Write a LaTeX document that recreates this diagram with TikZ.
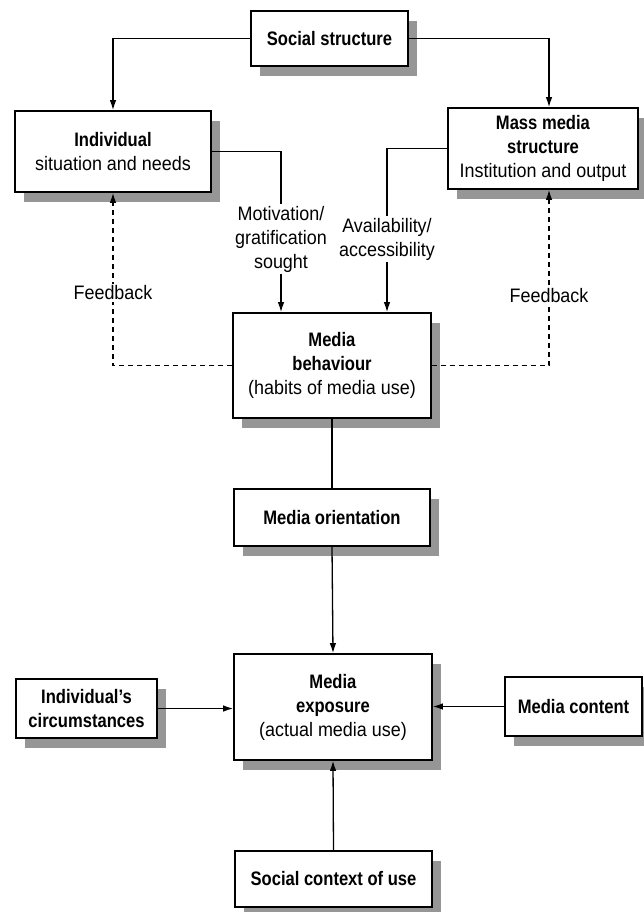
\documentclass[tikz,border=0pt]{standalone}
\usepackage{fontspec}
\setmainfont{Liberation Sans}[UprightFeatures={FakeStretch=0.92}, BoldFeatures={FakeStretch=0.85}]
\usepackage{xcolor}
\usepackage{tikz}
\usetikzlibrary{positioning, arrows.meta, shadows}
\definecolor{shadowgrey}{RGB}{150,150,150}
\tikzset{
    box/.style={draw, line width=1.6pt, fill=white, align=center,
        font=\fontsize{19.5}{24}\selectfont,
        drop shadow={shadow xshift=9pt, shadow yshift=-10pt, fill=shadowgrey, opacity=1}},
    lbl/.style={align=center, font=\fontsize{19.5}{24}\selectfont, inner sep=2pt},
    link/.style={line width=1.3pt, -{Latex[length=10pt,width=6.5pt]}},
    plain/.style={line width=1.3pt},
    fb/.style={line width=1.3pt, dash pattern=on 5pt off 4pt, -{Latex[length=10pt,width=6.5pt]}},
    fblabel/.style={fill=white, font=\fontsize{19.5}{24}\selectfont, inner sep=2pt}
}

\begin{document}
\begin{tikzpicture}[x=1pt, y=-1pt]
    \useasboundingbox (0,0) rectangle (643,912);

    \node[box, minimum width=157pt, minimum height=55pt] (social) at (329.5,38.5) {\textbf{Social structure}};
    \node[box, minimum width=196pt, minimum height=81pt] (indiv) at (113,151.5) {\textbf{Individual}\\situation and needs};
    \node[box, minimum width=190pt, minimum height=81pt] (mass) at (543,148.5) {\textbf{Mass media}\\\textbf{structure}\\Institution and output};
    \node[lbl] (motiv) at (281,239) {Motivation/\\gratification\\sought};
    \node[lbl] (avail) at (387,239) {Availability/\\accessibility};
    \node[box, minimum width=198pt, minimum height=105pt] (behav) at (332,365.5) {\textbf{Media}\\\textbf{behaviour}\\(habits of media use)};
    \node[box, minimum width=196pt, minimum height=57pt] (orient) at (332,517.5) {\textbf{Media orientation}};
    \node[box, minimum width=198pt, minimum height=106pt] (expo) at (333,707) {\textbf{Media}\\\textbf{exposure}\\(actual media use)};
    \node[box, minimum width=141pt, minimum height=59pt] (circ) at (86.5,708.5) {\textbf{Individual's}\\\textbf{circumstances}};
    \node[box, minimum width=137pt, minimum height=59pt] (content) at (573.5,706.5) {\textbf{Media content}};
    \node[box, minimum width=197pt, minimum height=56pt] (context) at (333.5,879) {\textbf{Social context of use}};

    \draw[link] (social.west) -| (indiv.north);
    \draw[link] (social.east) -| ([xshift=6pt]mass.north);
    \draw[plain] (indiv.east) -| (motiv.north);
    \draw[link] (motiv.south) -- (motiv.south |- behav.north);
    \draw[plain] (mass.west) -| (avail.north);
    \draw[link] (avail.south) -- (avail.south |- behav.north);
    \draw[fb] (behav.west) -| node[fblabel, pos=0.71] {Feedback} (indiv.south);
    \draw[fb] (behav.east) -| node[fblabel, pos=0.70] {Feedback} ([xshift=6pt]mass.south);
    \draw[plain] (behav.south) -- (orient.north);
    \draw[link] (orient.south) -- (expo.north);
    \draw[link] (circ.east) -- (circ.east -| expo.west);
    \draw[link] (content.west) -- (content.west -| expo.east);
    \draw[link] (context.north) -- (expo.south);
\end{tikzpicture}
\end{document}
